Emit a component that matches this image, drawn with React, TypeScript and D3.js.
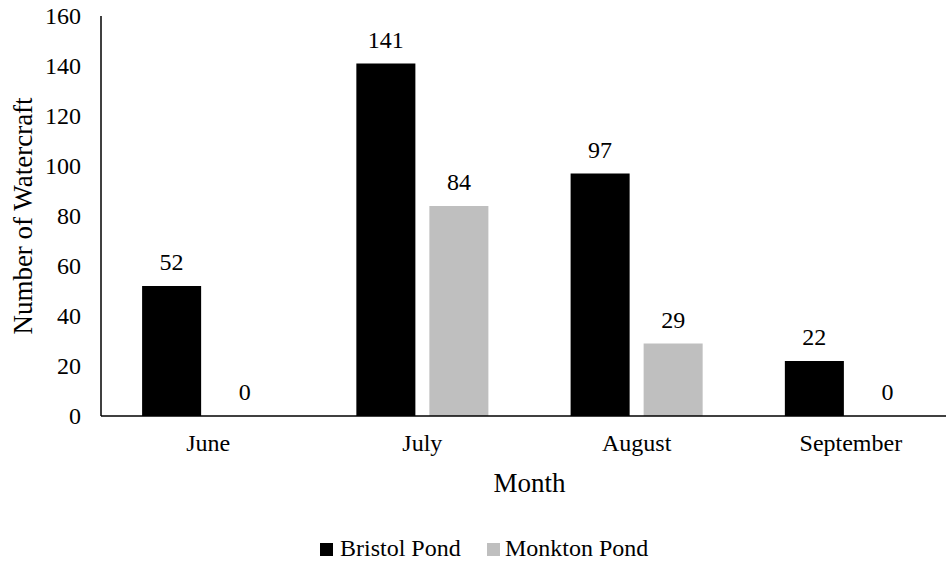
import React from "react";
import * as d3 from "d3";

const months = ["June", "July", "August", "September"];
const seriesNames = ["Bristol Pond", "Monkton Pond"];
const bristol = [52, 141, 97, 22];
const monkton = [0, 84, 29, 0];
const yTicks = [0, 20, 40, 60, 80, 100, 120, 140, 160];
const colors = ["#000000", "#bfbfbf"];

const W = 946;
const H = 561;
const FONT = "Liberation Serif, DejaVu Serif, serif";
const txt: React.CSSProperties = { fontFamily: FONT, fontSize: 24 };
const title: React.CSSProperties = { fontFamily: FONT, fontSize: 27 };

export default function App() {
  const left = 101;
  const right = 958;
  const top = 16;
  const bottom = 416;

  const x = d3.scaleBand<string>().domain(months).range([left, right]).paddingInner(0).paddingOuter(0);
  const y = d3.scaleLinear().domain([0, 160]).range([bottom, top]);
  const bw = x.bandwidth();
  const barW = bw * 0.2755;
  const gap = bw * 0.0653;
  const groupW = barW * 2 + gap;
  const series = [bristol, monkton];

  return (
    <svg width={W} height={H} style={{ position: "absolute", left: 0, top: 0, background: "#fff" }}>
      <rect x={0} y={0} width={W} height={H} fill="#fff" />
      {months.map((m, i) => {
        const gx = (x(m) as number) + (bw - groupW) / 2;
        return (
          <g key={m}>
            {series.map((s, si) => {
              const bx = gx + si * (barW + gap);
              const v = s[i];
              return (
                <g key={si}>
                  <rect x={bx} y={y(v)} width={barW} height={bottom - y(v)} fill={colors[si]} />
                  <text x={bx + barW / 2} y={y(v) - 16} textAnchor="middle" style={txt} fill="#000">
                    {v}
                  </text>
                </g>
              );
            })}
            <text x={(x(m) as number) + bw / 2} y={451} textAnchor="middle" style={txt} fill="#000">
              {m}
            </text>
          </g>
        );
      })}
      <line x1={left} x2={left} y1={top} y2={bottom} stroke="#000" strokeWidth={1.5} />
      <line x1={left} x2={right} y1={bottom} y2={bottom} stroke="#000" strokeWidth={1.5} />
      {yTicks.map((t) => (
        <text key={t} x={81} y={y(t)} dy="0.35em" textAnchor="end" style={txt} fill="#000">
          {t}
        </text>
      ))}
      <text x={(left + right) / 2} y={492} textAnchor="middle" style={title} fill="#000">
        Month
      </text>
      <text
        transform={`translate(32, ${(top + bottom) / 2}) rotate(-90)`}
        textAnchor="middle"
        style={title}
        fill="#000"
      >
        Number of Watercraft
      </text>
      <g>
        <rect x={320} y={543} width={13} height={13} fill={colors[0]} />
        <text x={340} y={556} style={txt} fill="#000">{seriesNames[0]}</text>
        <rect x={487} y={543} width={13} height={13} fill={colors[1]} />
        <text x={505} y={556} style={txt} fill="#000">{seriesNames[1]}</text>
      </g>
    </svg>
  );
}
